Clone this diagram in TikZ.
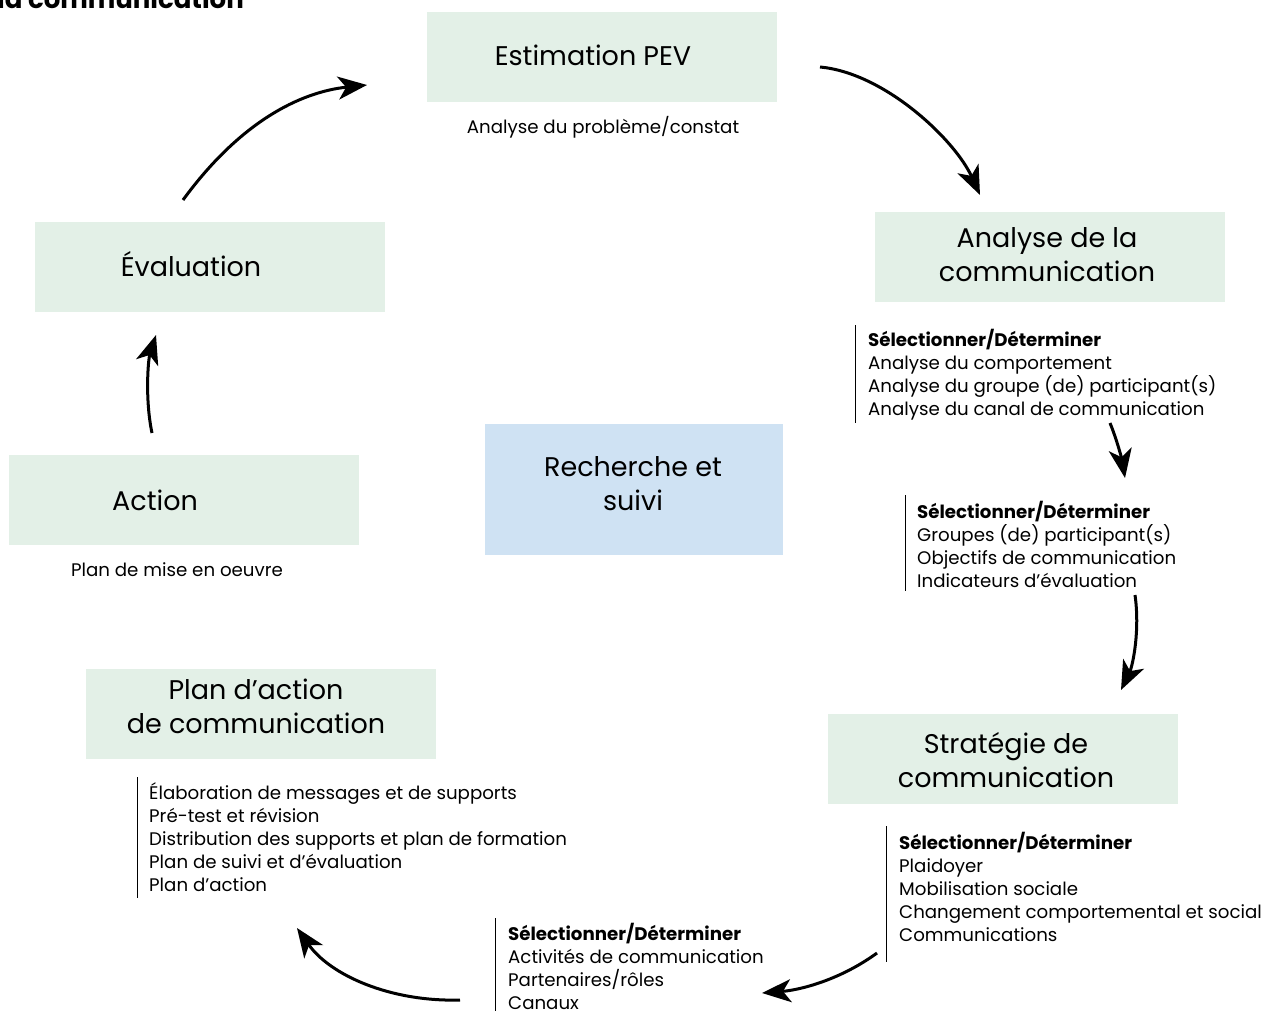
\documentclass[tikz,border=0pt]{standalone}
\usepackage{fontspec}
\setmainfont{Poppins}
\usetikzlibrary{arrows.meta,calc}
\definecolor{boxgreen}{RGB}{227,240,231}
\definecolor{boxblue}{RGB}{207,226,243}
\begin{document}
\begin{tikzpicture}[x=1pt,y=-1pt,
  stage/.style={fill=boxgreen, draw=none, minimum width=350pt, minimum height=90pt, inner sep=0pt},
  centre/.style={fill=boxblue, draw=none, minimum width=298pt, minimum height=131pt, inner sep=0pt},
  caption/.style={inner sep=0pt, align=center, font=\fontsize{27}{34}\selectfont},
  note/.style={inner sep=0pt, font=\fontsize{18.2}{23}\selectfont},
  items/.style={inner sep=0pt, anchor=north west, align=left, font=\fontsize{18.2}{23}\selectfont},
  bar/.style={line width=1pt},
  flow/.style={line width=3pt, -{Stealth[length=29pt,width=23pt,inset=8pt]}}]
\useasboundingbox (0,0) rectangle (1282,1010);

% heading, partly above the page edge
\node[inner sep=0pt, anchor=base west, font=\fontsize{26}{26}\selectfont\bfseries] (title) at (-3,8) {la communication};

% stages of the cycle
\node[stage] (pev) at (602,57) {};
\node[caption] (pevtext) at (593,55) {Estimation PEV};
\node[note] (pevnote) at (603,127) {Analyse du problème/constat};

\node[stage] (anal) at (1050,257) {};
\node[caption] (analtext) at (1047,255) {Analyse de la\\communication};

\node[stage] (strat) at (1003,759) {};
\node[caption] (strattext) at (1006,760) {Stratégie de\\communication};

\node[stage] (plan) at (261,714) {};
\node[caption] (plantext) at (256,706) {Plan d{\char"0027}action\\de communication};

\node[stage] (act) at (184,500) {};
\node[caption] (acttext) at (155,500) {Action};
\node[note] (actnote) at (177,570) {Plan de mise en oeuvre};

\node[stage] (eval) at (210,267) {};
\node[caption] (evaltext) at (191,264) {Évaluation};

\node[centre] (rech) at (634,489) {};
\node[caption] (rechtext) at (633,484) {Recherche et\\suivi};

% item lists
\node[items] (l1) at (868,329) {\textbf{Sélectionner/Déterminer}\\Analyse du comportement\\Analyse du groupe (de) participant(s)\\Analyse du canal de communication};
\node[items] (l2) at (917,501) {\textbf{Sélectionner/Déterminer}\\Groupes (de) participant(s)\\Objectifs de communication\\Indicateurs d’évaluation};
\node[items] (l3) at (899,832) {\textbf{Sélectionner/Déterminer}\\Plaidoyer\\Mobilisation sociale\\Changement comportemental et social\\Communications};
\node[items] (l4) at (508,923) {\textbf{Sélectionner/Déterminer}\\Activités de communication\\Partenaires/rôles\\Canaux};
\node[items] (l5) at (149,782) {Élaboration de messages et de supports\\Pré-test et révision\\Distribution des supports et plan de formation\\Plan de suivi et d’évaluation\\Plan d’action};

% left rules of the lists
\draw[bar] ($(l1.north west)+(-13,-4)$) -- ($(l1.north west)+(-13,94)$);
\draw[bar] ($(l2.north west)+(-12,-6)$) -- ($(l2.north west)+(-12,90)$);
\draw[bar] ($(l3.north west)+(-13,-6)$) -- ($(l3.north west)+(-13,130)$);
\draw[bar] ($(l4.north west)+(-13,-5)$) -- ($(l4.north west)+(-13,91)$);
\draw[bar] ($(l5.north west)+(-12,-5)$) -- ($(l5.north west)+(-12,116)$);

% arrows around the cycle
\coordinate (a1s) at (820,67);   \coordinate (a1e) at (980,195);
\coordinate (a2s) at (1110,423); \coordinate (a2e) at (1125,478);
\coordinate (a3s) at (1135,595); \coordinate (a3e) at (1121,690);
\coordinate (a4s) at (877,953);  \coordinate (a4e) at (762,993);
\coordinate (a5s) at (460,1000); \coordinate (a5e) at (297,928);
\coordinate (a6s) at (152,433);  \coordinate (a6e) at (156,335);
\coordinate (a7s) at (183,200);  \coordinate (a7e) at (367,85);

\draw[flow] (a1s) .. controls (885,73) and (955,140) .. (a1e);
\draw[flow] (a2s) .. controls (1117,440) and (1122,460) .. (a2e);
\draw[flow] (a3s) .. controls (1140,630) and (1133,665) .. (a3e);
\draw[flow] (a4s) .. controls (840,980) and (800,990) .. (a4e);
\draw[flow] (a5s) .. controls (390,1002) and (330,975) .. (a5e);
\draw[flow] (a6s) .. controls (145,400) and (148,360) .. (a6e);
\draw[flow] (a7s) .. controls (240,122) and (300,92) .. (a7e);
\end{tikzpicture}
\end{document}
